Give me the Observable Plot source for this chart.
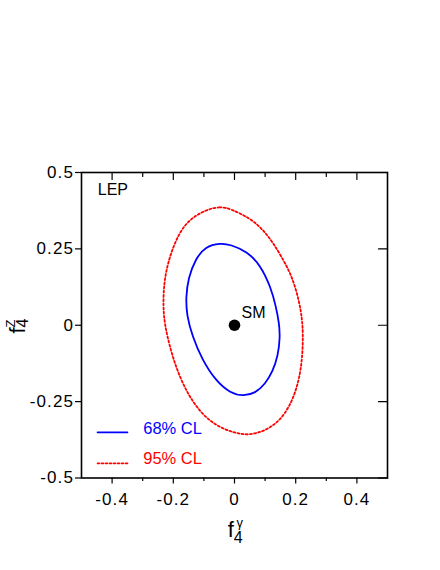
<!DOCTYPE html>
<html>
<head>
<meta charset="utf-8">
<script src="https://cdn.jsdelivr.net/npm/d3@7"></script>
<script src="https://cdn.jsdelivr.net/npm/@observablehq/plot@0.6"></script>
<style>
  html, body { margin: 0; padding: 0; background: #fff; }
  #chart { width: 440px; height: 570px; }
  #chart svg g[aria-label="x-axis tick label"] text,
  #chart svg g[aria-label="y-axis tick label"] text { letter-spacing: 1.1px; }
</style>
</head>
<body>
<div id="chart"></div>
<script>
// ---- data ----
const xMajorTicks = [-0.4, -0.2, 0, 0.2, 0.4];
const xMinorTicks = [-0.3, -0.1, 0.1, 0.3];
const yTicks = [-0.5, -0.25, 0, 0.25, 0.5];

// 68% CL contour (f4gamma, f4Z)
const cl68X = [-0.095, -0.046, -0.013, 0.042, 0.085, 0.118, 0.136, 0.146, 0.149, 0.142, 0.125, 0.100, 0.068, 0.030, -0.013, -0.062, -0.106, -0.138, -0.156, -0.159, -0.151, -0.128];
const cl68Y = [0.258, 0.269, 0.264, 0.241, 0.196, 0.126, 0.060, 0.005, -0.040, -0.100, -0.151, -0.193, -0.222, -0.232, -0.223, -0.181, -0.112, -0.035, 0.032, 0.092, 0.155, 0.216];

// 95% CL contour
const cl95X = [-0.095, -0.046, -0.013, 0.052, 0.096, 0.128, 0.161, 0.189, 0.211, 0.221, 0.224, 0.222, 0.213, 0.194, 0.165, 0.130, 0.090, 0.042, -0.002, -0.062, -0.117, -0.160, -0.194, -0.221, -0.232, -0.233, -0.226, -0.209, -0.182, -0.149];
const cl95Y = [0.378, 0.389, 0.381, 0.350, 0.310, 0.267, 0.212, 0.157, 0.081, 0.020, -0.030, -0.100, -0.170, -0.235, -0.291, -0.327, -0.349, -0.360, -0.352, -0.329, -0.280, -0.212, -0.132, -0.034, 0.032, 0.100, 0.168, 0.234, 0.300, 0.345];

// Standard Model point
const smX = [0];
const smY = [0];
const smLabel = ["SM"];

const legendLabels = ["68% CL", "95% CL"];
const experimentLabel = ["LEP"];

// ---- tables built from the arrays ----
const cl68 = cl68X.map((x, i) => ({x, y: cl68Y[i]}));
const cl95 = cl95X.map((x, i) => ({x, y: cl95Y[i]}));
const sm = smX.map((x, i) => ({x, y: smY[i], label: smLabel[i]}));

const BLUE = "#0000ff";
const RED = "#ff0000";

// plain line segment shape for vector marks (tick marks, legend keys)
const segment = {draw(context, l) { context.moveTo(0, 0); context.lineTo(0, -l); }};

const plot = Plot.plot({
  width: 440,
  height: 570,
  marginLeft: 81,
  marginRight: 53,
  marginTop: 172,
  marginBottom: 92.5,
  x: {domain: [-0.5, 0.5]},
  y: {domain: [-0.5, 0.5]},
  style: {
    fontFamily: "'Liberation Sans', Arial, Helvetica, sans-serif",
    fontSize: "17px",
    color: "#000",
    background: "#fff",
    overflow: "visible"
  },
  marks: [
    // contours
    Plot.line(cl95, {x: "x", y: "y", curve: "basis-closed", stroke: RED, strokeWidth: 1.8, strokeDasharray: "2,2.2"}),
    Plot.line(cl68, {x: "x", y: "y", curve: "basis-closed", stroke: BLUE, strokeWidth: 1.8}),

    // SM point
    Plot.dot(sm, {x: "x", y: "y", r: 5.8, fill: "#000", stroke: null}),
    Plot.text(sm, {x: "x", y: "y", text: "label", textAnchor: "start", dx: 7, dy: -12, fontSize: 16, fill: "#000"}),

    // LEP label
    Plot.text(experimentLabel, {frameAnchor: "top-left", text: d => d, textAnchor: "start", lineAnchor: "top", dx: 16.3, dy: 10.7, fontSize: 16}),

    // legend
    Plot.vector([legendLabels[0]], {frameAnchor: "bottom-left", dx: 16, dy: -45.6, rotate: 90, length: 30, anchor: "start", shape: segment, stroke: BLUE, strokeWidth: 1.6}),
    Plot.text([legendLabels[0]], {frameAnchor: "bottom-left", text: d => d, textAnchor: "start", dx: 61.7, dy: -44.2, fill: BLUE, fontSize: 16.5}),
    Plot.vector([legendLabels[1]], {frameAnchor: "bottom-left", dx: 16, dy: -14.6, rotate: 90, length: 30, anchor: "start", shape: segment, stroke: RED, strokeWidth: 1.6, strokeDasharray: "2,2"}),
    Plot.text([legendLabels[1]], {frameAnchor: "bottom-left", text: d => d, textAnchor: "start", dx: 61.7, dy: -14, fill: RED, fontSize: 16.5}),

    // axes: bottom (outward ticks with labels), left (outward ticks with labels)
    Plot.axisX(xMajorTicks, {anchor: "bottom", tickSize: 6, tickPadding: 8.5, tickFormat: d => String(d), label: null, strokeWidth: 1.2}),
    Plot.axisX(xMinorTicks, {anchor: "bottom", tickSize: 3.5, tickFormat: () => "", label: null, strokeWidth: 1.2}),
    Plot.axisY(yTicks, {anchor: "left", tickSize: 6, tickPadding: 1.5, tickFormat: d => String(d), label: null, strokeWidth: 1.2}),

    // top and right inward ticks
    Plot.vector(xMajorTicks, {x: d => d, frameAnchor: "top", rotate: 180, length: 7, anchor: "start", shape: segment, stroke: "#000", strokeWidth: 1.2}),
    Plot.vector(xMinorTicks, {x: d => d, frameAnchor: "top", rotate: 180, length: 4, anchor: "start", shape: segment, stroke: "#000", strokeWidth: 1.2}),
    Plot.vector(yTicks, {y: d => d, frameAnchor: "right", rotate: -90, length: 9, anchor: "start", shape: segment, stroke: "#000", strokeWidth: 1.2}),

    // axis titles  f^γ_4  (x)  and  f^Z_4  (y)
    Plot.text(["f"], {frameAnchor: "bottom", text: d => d, textAnchor: "middle", lineAnchor: "bottom", dx: -3.7, dy: 58.7, fontSize: 22}),
    Plot.text(["γ"], {frameAnchor: "bottom", text: d => d, textAnchor: "start", lineAnchor: "bottom", dx: 2, dy: 49.4, fontSize: 13}),
    Plot.text(["4"], {frameAnchor: "bottom", text: d => d, textAnchor: "start", lineAnchor: "bottom", dx: -0.7, dy: 65.4, fontSize: 16}),

    Plot.text(["f"], {frameAnchor: "left", text: d => d, rotate: -90, textAnchor: "start", lineAnchor: "bottom", dx: -57, dy: 8.3, fontSize: 22}),
    Plot.text(["Z"], {frameAnchor: "left", text: d => d, rotate: -90, textAnchor: "start", lineAnchor: "bottom", dx: -67, dy: 2.3, fontSize: 13}),
    Plot.text(["4"], {frameAnchor: "left", text: d => d, rotate: -90, textAnchor: "start", lineAnchor: "bottom", dx: -54, dy: 2.3, fontSize: 16}),

    // frame
    Plot.frame({stroke: "#000", strokeWidth: 1.6})
  ]
});

document.getElementById("chart").appendChild(plot);
</script>
</body>
</html>
